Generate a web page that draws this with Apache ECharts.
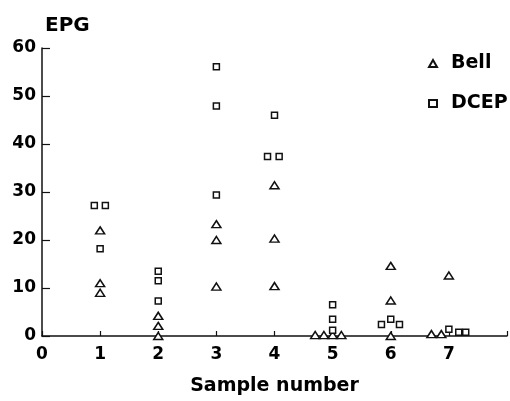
<!DOCTYPE html>
<html>
<head>
<meta charset="utf-8">
<script src="https://cdn.jsdelivr.net/npm/echarts@6/dist/echarts.min.js"></script>
<style>
  html, body { margin: 0; padding: 0; background: #fff; }
  #chart { width: 510px; height: 401px; }
</style>
</head>
<body>
<div id="chart"></div>
<script>
// values (samples are slightly spread around each integer)
var bellSample = [1, 1, 1, 2, 2, 2, 3, 3, 3, 4, 4, 4, 4.7, 4.85, 5.0, 5.15, 6, 6, 6, 7, 6.7, 6.87];
var bellEpg    = [22, 11, 9, 4.2, 2.1, 0, 23.3, 20, 10.3, 31.4, 20.3, 10.4, 0.2, 0.2, 0.2, 0.2, 14.6, 7.4, 0, 12.6, 0.4, 0.4];

var dcepSample = [0.9, 1.09, 1.0, 2, 2, 2, 3, 3, 3, 3.88, 4.08, 4.0, 5, 5, 5, 5.84, 6.0, 6.15, 7.0, 7.17, 7.29];
var dcepEpg    = [27.2, 27.2, 18.2, 13.5, 11.5, 7.3, 56.1, 47.9, 29.4, 37.4, 37.4, 46, 6.5, 3.5, 1.2, 2.4, 3.5, 2.4, 1.4, 0.8, 0.8];

var yTicks = [0, 10, 20, 30, 40, 50, 60];

function pairs(xs, ys) {
    var out = [];
    for (var i = 0; i < xs.length; i++) out.push([xs[i], ys[i]]);
    return out;
}

var font = 'DejaVu Sans';
var chart = echarts.init(document.getElementById('chart'));

var option = {
    animation: false,
    backgroundColor: '#fff',
    title: {
        text: 'EPG',
        left: 40,
        top: 11,
        textStyle: { fontFamily: font, fontWeight: 'bold', fontSize: 20, color: '#000' }
    },
    legend: {
        orient: 'vertical',
        left: 423,
        top: 49,
        itemGap: 21,
        itemWidth: 8,
        itemHeight: 7,
        textStyle: { fontFamily: font, fontWeight: 'bold', fontSize: 19, color: '#000', padding: [0, 0, 0, 9] },
        data: ['Bell', 'DCEP']
    },
    grid: { left: 42, right: -6, top: 48, bottom: 64, containLabel: false },
    xAxis: {
        type: 'value',
        min: 0,
        max: 8,
        interval: 1,
        name: 'Sample number',
        nameLocation: 'middle',
        nameGap: 41,
        nameTextStyle: { fontFamily: font, fontWeight: 'bold', fontSize: 19, color: '#000' },
        axisLine: { lineStyle: { color: '#111', width: 1.5 } },
        axisTick: { inside: true, length: 5, lineStyle: { color: '#111', width: 1.2 } },
        axisLabel: {
            margin: 10,
            fontFamily: font, fontWeight: 'bold', fontSize: 17, color: '#000',
            formatter: function (v) { return v === 8 ? '' : String(v); }
        },
        splitLine: { show: false }
    },
    yAxis: {
        type: 'value',
        min: yTicks[0],
        max: yTicks[yTicks.length - 1],
        interval: 10,
        axisLine: { show: true, lineStyle: { color: '#111', width: 1.5 } },
        axisTick: { show: true, inside: true, length: 8, lineStyle: { color: '#111', width: 1.2 } },
        axisLabel: { margin: 6, fontFamily: font, fontWeight: 'bold', fontSize: 17, color: '#000' },
        splitLine: { show: false }
    },
    series: [
        {
            name: 'Bell',
            type: 'scatter',
            symbol: 'triangle',
            symbolSize: [9, 7],
            itemStyle: { color: '#fff', borderColor: '#111', borderWidth: 1.5, opacity: 1 },
            data: pairs(bellSample, bellEpg),
            z: 3
        },
        {
            name: 'DCEP',
            type: 'scatter',
            symbol: 'rect',
            symbolSize: 6,
            itemStyle: { color: '#fff', borderColor: '#111', borderWidth: 1.5, opacity: 1 },
            data: pairs(dcepSample, dcepEpg),
            z: 4
        }
    ]
};

chart.setOption(option);
</script>
</body>
</html>
